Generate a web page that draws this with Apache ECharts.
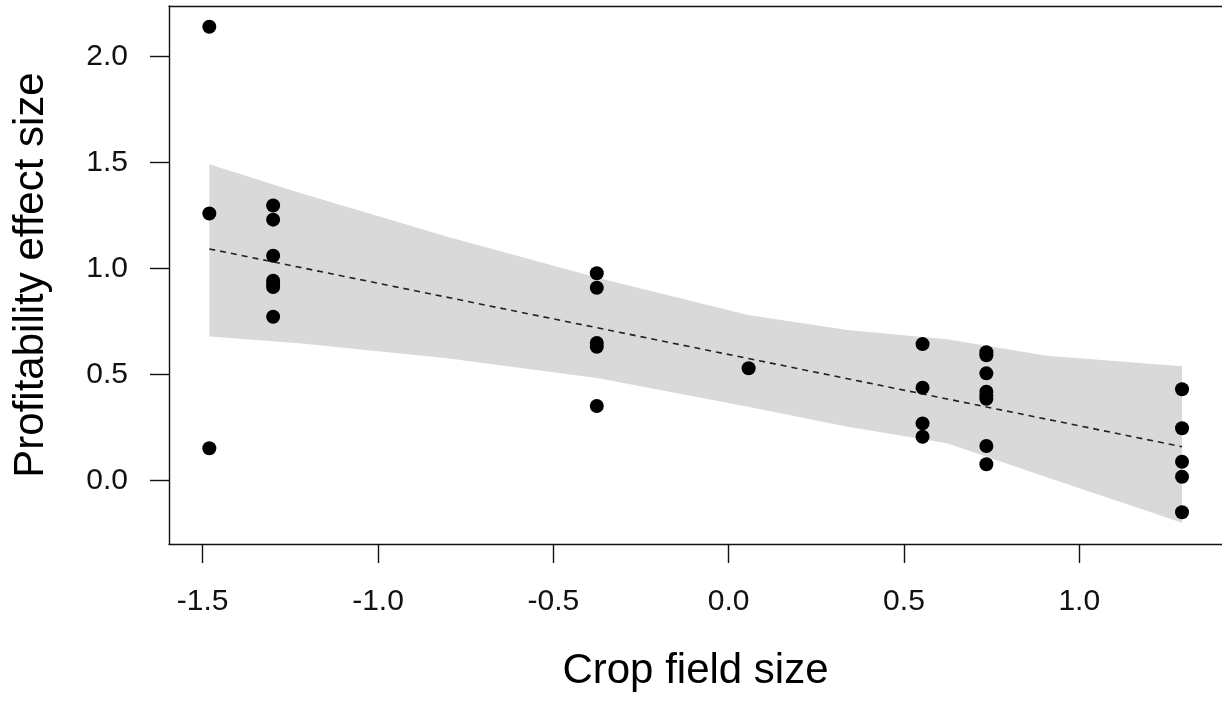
<!DOCTYPE html>
<html>
<head>
<meta charset="utf-8">
<script src="https://cdn.jsdelivr.net/npm/echarts@6/dist/echarts.min.js"></script>
<style>
  html, body { margin: 0; padding: 0; background: #fff; }
  #chartmain { width: 1222px; height: 705px; }
</style>
</head>
<body>
<div id="chartmain"></div>
<script>
// observed points (crop field size, profitability effect size)
var pointX = [-1.481, -1.481, -1.481,
    -1.299, -1.299, -1.299, -1.299, -1.299, -1.299, -1.299,
    -0.376, -0.376, -0.376, -0.376, -0.376,
    0.057,
    0.553, 0.553, 0.553, 0.553,
    0.735, 0.735, 0.735, 0.735, 0.735, 0.735, 0.735, 0.735,
    1.293, 1.293, 1.293, 1.293, 1.293];
var pointY = [2.140, 1.259, 0.152,
    1.297, 1.230, 1.060, 0.942, 0.927, 0.912, 0.772,
    0.977, 0.909, 0.648, 0.630, 0.351,
    0.529,
    0.643, 0.437, 0.269, 0.206,
    0.605, 0.590, 0.505, 0.418, 0.400, 0.385, 0.162, 0.076,
    0.430, 0.246, 0.088, 0.017, -0.150];

// fitted line
var lineX = [-1.481, 1.293];
var lineY = [1.092, 0.159];

// confidence band
var bandX = [-1.481, -1.224, -0.797, -0.371, 0.055, 0.339, 0.623, 0.907, 1.293];
var bandHi = [1.491, 1.357, 1.147, 0.955, 0.780, 0.709, 0.666, 0.588, 0.538];
var bandLo = [0.679, 0.647, 0.575, 0.482, 0.348, 0.253, 0.175, 0.015, -0.200];

var xTicks = [-1.5, -1.0, -0.5, 0.0, 0.5, 1.0];
var yTicks = [0.0, 0.5, 1.0, 1.5, 2.0];

var myChart = echarts.init(document.getElementById('chartmain'));

var font = 'Liberation Sans, Arial, sans-serif';
var axisCol = '#111';
var xMin = -1.596, xMax = 1.407;

var option = {
    animation: false,
    backgroundColor: '#fff',
    grid: {
        left: 169,
        top: 6,
        width: 1057,
        height: 538,
        show: false
    },
    xAxis: [{
        type: 'value',
        min: xMin,
        max: xMax,
        name: 'Crop field size',
        nameLocation: 'middle',
        nameGap: 106,
        nameTextStyle: {fontFamily: font, fontSize: 42, color: '#000'},
        splitLine: {show: false},
        axisLine: {show: true, onZero: false, lineStyle: {color: axisCol, width: 1.4}},
        axisTick: {show: true, length: 19, customValues: xTicks, lineStyle: {color: axisCol, width: 1.4}},
        axisLabel: {
            customValues: xTicks,
            margin: 43,
            fontFamily: font,
            fontSize: 30,
            color: '#111',
            formatter: function (v) { return v.toFixed(1); }
        }
    }, {
        // top edge of the box
        type: 'value',
        position: 'top',
        min: xMin,
        max: xMax,
        splitLine: {show: false},
        axisLine: {show: true, onZero: false, lineStyle: {color: axisCol, width: 1.4}},
        axisTick: {show: false},
        axisLabel: {show: false}
    }],
    yAxis: {
        type: 'value',
        min: -0.3,
        max: 2.238,
        name: 'Profitability effect size',
        nameLocation: 'middle',
        nameGap: 117,
        nameTextStyle: {fontFamily: font, fontSize: 42, color: '#000'},
        splitLine: {show: false},
        axisLine: {show: true, onZero: false, lineStyle: {color: axisCol, width: 1.4}},
        axisTick: {show: true, length: 19, customValues: yTicks, lineStyle: {color: axisCol, width: 1.4}},
        axisLabel: {
            customValues: yTicks,
            margin: 41,
            fontFamily: font,
            fontSize: 30,
            color: '#111',
            formatter: function (v) { return v.toFixed(1); }
        }
    },
    series: [
        {
            type: 'custom',
            z: 1,
            silent: true,
            data: bandX.map(function (x, i) { return [x, bandLo[i], bandHi[i]]; }),
            renderItem: function (params, api) {
                if (params.dataIndex !== 0) return null;
                var pts = [];
                for (var i = 0; i < bandX.length; i++) {
                    pts.push(api.coord([bandX[i], bandHi[i]]));
                }
                for (var j = bandX.length - 1; j >= 0; j--) {
                    pts.push(api.coord([bandX[j], bandLo[j]]));
                }
                return {
                    type: 'polygon',
                    shape: {points: pts},
                    style: {fill: '#d9d9d9', stroke: null}
                };
            }
        },
        {
            type: 'line',
            z: 2,
            data: lineX.map(function (x, i) { return [x, lineY[i]]; }),
            showSymbol: false,
            lineStyle: {color: '#222', width: 1.6, type: [6, 5]}
        },
        {
            type: 'scatter',
            z: 3,
            symbol: 'circle',
            symbolSize: 14,
            itemStyle: {color: '#000', opacity: 1},
            data: pointX.map(function (x, i) { return [x, pointY[i]]; })
        }
    ]
};

myChart.setOption(option);
</script>
</body>
</html>
